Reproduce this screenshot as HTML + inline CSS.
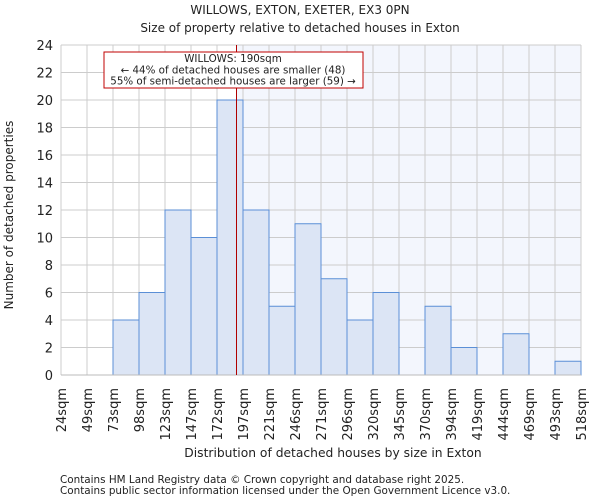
<!DOCTYPE html>
<html><head><meta charset="utf-8"><style>
body{margin:0;background:#fff;font-family:"DejaVu Sans","Liberation Sans",sans-serif;}
svg text{font-family:"DejaVu Sans","Liberation Sans",sans-serif;fill:#222;}
</style></head><body>
<svg id="c" width="600" height="500">
<text x="300" y="14" text-anchor="middle" font-size="12">WILLOWS, EXTON, EXETER, EX3 0PN</text>
<text x="300" y="32" text-anchor="middle" font-size="12">Size of property relative to detached houses in Exton</text>
<g id="plot"></g>
<text x="333" y="457" text-anchor="middle" font-size="12.3">Distribution of detached houses by size in Exton</text>
<text transform="translate(13,215) rotate(-90)" text-anchor="middle" font-size="12">Number of detached properties</text>
<text x="60" y="483" font-size="10.4" fill="#444">Contains HM Land Registry data © Crown copyright and database right 2025.</text>
<text x="60" y="494" font-size="10.4" fill="#444">Contains public sector information licensed under the Open Government Licence v3.0.</text>
</svg>
<script>
const binLabels=["24sqm","49sqm","73sqm","98sqm","123sqm","147sqm","172sqm","197sqm","221sqm","246sqm","271sqm","296sqm","320sqm","345sqm","370sqm","394sqm","419sqm","444sqm","469sqm","493sqm","518sqm"];
const counts=[0,0,4,6,12,10,20,12,5,11,7,4,6,0,5,2,0,3,0,1];
const yTicks=[0,2,4,6,8,10,12,14,16,18,20,22,24];
const propertyBin=6.75;
const NS="http://www.w3.org/2000/svg";
const L=61,R=581,T=45,B=375,yMax=24;
const bw=(R-L)/counts.length;
const x=i=>L+i*bw;
const y=v=>B-(B-T)*v/yMax;
const g=document.getElementById('plot');
function mk(t,a){const e=document.createElementNS(NS,t);for(const k in a)e.setAttribute(k,a[k]);g.appendChild(e);return e;}
const px=x(propertyBin);
let e=mk('rect',{x:px,y:T,width:R-px,height:B-T,fill:'#f3f6fd'});


yTicks.forEach(v=>{
 let l=mk('line',{x1:L,x2:R,y1:y(v),y2:y(v),stroke:'#ccc','stroke-width':1});
 
 
 let t=mk('text',{x:L-8,y:y(v)+5,'text-anchor':'end','font-size':13});
 t.textContent=v;
 
 
});
binLabels.forEach((s,i)=>{
 let l=mk('line',{x1:x(i),x2:x(i),y1:T,y2:B,stroke:'#ccc','stroke-width':1});
 
 
 let t=mk('text',{transform:`translate(${x(i)+5},388) rotate(-90)`,'text-anchor':'end','font-size':13});
 t.textContent=s;
 
 
});
counts.forEach((c,i)=>{
 if(!c)return;
 let r=mk('rect',{x:x(i),y:y(c),width:bw,height:B-y(c),fill:'#dce5f5',stroke:'#5b8fd6','stroke-width':1});
 
 
});
e=mk('line',{x1:L,x2:R,y1:B,y2:B,stroke:'#bbb'});


e=mk('line',{x1:px,x2:px,y1:T,y2:B,stroke:'#b00000','stroke-width':1});


e=mk('rect',{x:104,y:52,width:259,height:36,fill:'#fff',stroke:'#c00000','stroke-width':1});


["WILLOWS: 190sqm","← 44% of detached houses are smaller (48)","55% of semi-detached houses are larger (59) →"].forEach((s,i)=>{
 let t=mk('text',{x:233,y:62+i*11.3,'text-anchor':'middle','font-size':10.3});
 t.textContent=s;
 
 
});
</script>
</body></html>
